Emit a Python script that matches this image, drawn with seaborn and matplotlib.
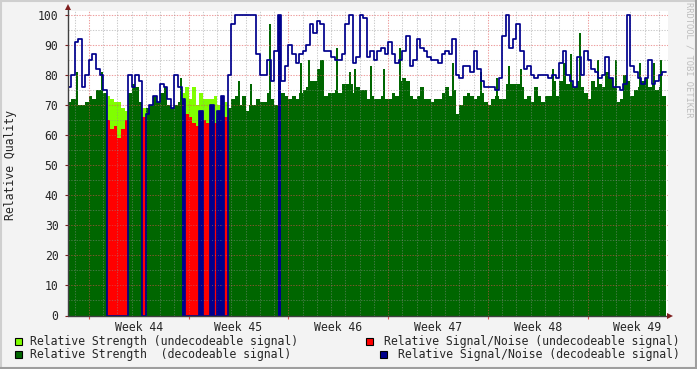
import numpy as np
import pandas as pd
import matplotlib
matplotlib.use("Agg")
import matplotlib.pyplot as plt
from matplotlib.patches import Rectangle
from matplotlib.lines import Line2D
import seaborn as sns

# ---------------- data (6-hour bins, first bin starts Saturday 12:00 before week 44) ----------------
bin_hours = 6
week_labels = ["Week 44", "Week 45", "Week 46", "Week 47", "Week 48", "Week 49"]
y_ticks = [0, 10, 20, 30, 40, 50, 60, 70, 80, 90, 100]

# relative strength per bin
strength = [
    71, 72, 72, 70, 70, 71, 73, 72, 75, 75, 74, 73, 72, 71, 71, 69, 68, 74, 77, 76, 71, 69, 69, 70, 73, 71, 74, 76,
    70, 69, 70, 71, 74, 76, 72, 76, 70, 74, 72, 72, 72, 73, 70, 73, 71, 69, 72, 73, 70, 73, 68, 70, 70, 72, 71, 71,
    74, 72, 70, 72, 74, 73, 72, 73, 72, 74, 75, 76, 78, 78, 82, 85, 73, 74, 74, 75, 74, 77, 77, 77, 74, 76, 75, 75,
    72, 73, 72, 72, 73, 72, 72, 74, 73, 78, 79, 78, 73, 72, 73, 76, 72, 72, 71, 72, 72, 74, 76, 73, 75, 67, 70, 73,
    74, 73, 72, 73, 74, 71, 70, 72, 73, 72, 72, 77, 77, 77, 77, 76, 72, 73, 71, 76, 73, 71, 73, 73, 78, 73, 78, 84,
    77, 77, 76, 78, 76, 74, 72, 78, 76, 77, 76, 81, 79, 76, 71, 72, 80, 78, 73, 75, 76, 78, 79, 76, 77, 75, 76, 73,
]

# narrow strength spikes: time (days from start) and height
spike_days = [0.67, 2.39, 7.96, 12.03, 12.88, 14.21, 16.39, 16.93, 18.91, 19.82, 20.20, 21.30, 22.23, 23.35,
              27.05, 29.04, 30.16, 30.96, 31.85, 34.07, 35.33, 35.94, 37.25, 38.51, 40.15, 41.16, 41.63]
spike_vals = [81, 81, 79, 78, 77, 97, 84, 85, 89, 81, 82, 83, 82, 89,
              84, 81, 79, 83, 82, 82, 87, 94, 85, 85, 84, 84, 85]

# relative signal/noise per bin
snr = [
    76, 80, 91, 92, 76, 80, 85, 87, 82, 80, 75, 65, 62, 63, 59, 62, 65, 80, 76, 80, 78, 66, 67, 70, 73, 71, 77, 76,
    72, 69, 80, 76, 72, 67, 66, 64, 63, 68, 65, 64, 70, 64, 68, 73, 66, 80, 97, 100, 100, 100, 100, 100, 100, 87, 80, 80,
    85, 78, 88, 100, 78, 83, 90, 87, 84, 87, 88, 90, 97, 94, 98, 97, 88, 88, 86, 85, 85, 87, 97, 100, 84, 86, 100, 99,
    86, 88, 85, 88, 89, 87, 91, 87, 84, 85, 88, 93, 83, 85, 92, 89, 88, 86, 85, 85, 84, 87, 88, 87, 92, 80, 79, 83,
    83, 81, 88, 82, 78, 76, 76, 76, 75, 79, 93, 100, 89, 92, 97, 88, 82, 83, 80, 79, 80, 80, 80, 79, 80, 79, 84, 88,
    80, 78, 76, 86, 80, 88, 85, 82, 81, 79, 80, 86, 79, 76, 76, 75, 77, 100, 83, 81, 79, 77, 79, 85, 77, 78, 80, 81,
]

# d = decodeable, u = undecodeable, b = short decodeable burst inside undecodeable period
state = (
    "ddddddddddd" "uuuuuu" "dddd" "u" "dddddd"
    "dddd" "b" "uuuu" "b" "uu" "b" "u" "bb" "u" "ddddddddddd"
    "ddd" "b" "dddddddddddddddddddddddd"
    "dddddddddddddddddddddddddddd"
    "dddddddddddddddddddddddddddd"
    "dddddddddddddddddddddddddddd"
)

# ---------------- style ----------------
sns.set_theme(style="white")
plt.rcParams["font.family"] = ["DejaVu Sans Mono", "DejaVu Sans"]
FS = 8.3

C_LIGHT = "#80FF00"
C_DARK = "#006600"
C_RED = "#FF0000"
C_BLUE = "#00008C"
BG = "#F3F3F3"

W, H = 697, 369
fig = plt.figure(figsize=(W / 100, H / 100), dpi=100, facecolor=BG)

ax_l, ax_r, ax_t, ax_b = 67.5, 668.0, 10.5, 315.5
ax = fig.add_axes([ax_l / W, 1 - ax_b / H, (ax_r - ax_l) / W, (ax_b - ax_t) / H])
ax.set_facecolor("white")

n = len(strength)
strength_a = np.array(strength, float)
snr_a = np.array(snr, float)
st = np.array(list(state))
edges = np.arange(n + 1) * bin_hours / 24.0
centers = (edges[:-1] + edges[1:]) / 2

df = pd.DataFrame({
    "t": centers,
    "dark": np.where(st == "d", strength_a, 0.0),
    "light": np.where(st != "d", strength_a, 0.0),
    "red": np.where(st == "u", snr_a, 0.0),
    "blue": np.where(st == "b", snr_a, 0.0),
})

# dark green spikes first (under the other areas)
ax.vlines(spike_days, 0, spike_vals, color=C_DARK, lw=1.1, zorder=1.9, antialiased=False)

for col, c in [("dark", C_DARK), ("light", C_LIGHT), ("red", C_RED), ("blue", C_BLUE)]:
    try:
        sns.histplot(data=df, x="t", weights=col, bins=list(edges), element="step", fill=True,
                     color=c, alpha=1, linewidth=0, ax=ax, zorder=2)
    except Exception:
        ax.fill_between(edges, np.append(df[col].values, df[col].values[-1]), step="post",
                        color=c, linewidth=0, zorder=2)

# grid (drawn above the areas like rrdtool)
days_total = n * bin_hours / 24.0
week_start = 1.5
grid_minor = dict(color="#8F8F8F", alpha=0.45, lw=0.75, ls=(0, (1.3, 1.3)), zorder=3)
grid_major = dict(color="#E05050", alpha=0.55, lw=0.75, ls=(0, (1.3, 1.3)), zorder=3)
for v in range(5, 100, 10):
    ax.axhline(v, **grid_minor)
for v in range(10, 101, 10):
    ax.axhline(v, **grid_major)
d = 0.5
while d < days_total:
    k = (d - week_start) / 7
    if abs(k - round(k)) < 1e-6:
        ax.axvline(d, **grid_major)
    else:
        ax.axvline(d, **grid_minor)
    d += 1.0

# S/N line (goes to 0 while the signal is undecodeable)
line_vals = np.where(st == "u", 0.0, snr_a)
sns.lineplot(x=edges, y=np.append(line_vals, line_vals[-1]), drawstyle="steps-post",
             color=C_BLUE, linewidth=1.25, errorbar=None, ax=ax, zorder=4)

ax.set_xlim(0, (ax_r - 67.5) / (666 - 67.5) * days_total)
ax.set_ylim(0, 101.5)
for s in ax.spines.values():
    s.set_visible(False)

# axes lines with arrows
AX_C = "#404040"
ARROW = "#7F1F1F"
ax.plot([0, 0], [0, 102.6], color=AX_C, lw=1, clip_on=False, zorder=5)
ax.plot([0], [102.6], marker="^", ms=5, color=ARROW, clip_on=False, zorder=6, mew=0)
xr = ax.get_xlim()[1]
ax.plot([0, xr + 0.1], [0, 0], color=AX_C, lw=1, clip_on=False, zorder=5)
ax.plot([xr + 0.15], [0], marker=">", ms=5, color=ARROW, clip_on=False, zorder=6, mew=0)

# ticks and labels
ax.set_yticks(y_ticks)
ax.set_yticklabels([str(v) for v in y_ticks], fontsize=FS)
ax.tick_params(axis="y", which="major", length=2.5, width=0.8, color="#7F1F1F", pad=4, left=True)
week_mid = [week_start + 3.5 + 7 * i for i in range(len(week_labels))]
ax.set_xticks(week_mid)
ax.set_xticklabels(week_labels, fontsize=FS)
ax.tick_params(axis="x", which="major", length=0, pad=4.2)
ax.set_xticks([week_start + 7 * i for i in range(6)], minor=True)
ax.tick_params(axis="x", which="minor", length=2.5, width=0.8, color="#E05050", bottom=True)
ax.set_xlabel("")
ax.set_ylabel("")

fig.text(11 / W, 1 - 165 / H, "Relative Quality", rotation=90, ha="center", va="center", fontsize=FS)
fig.text(688.5 / W, 1 - 60 / H, "RRDTOOL / TOBI OETIKER", rotation=270, ha="center", va="center",
         fontsize=6.3, color="#BDBDBD")

# legend
def box(x, y, c):
    fig.patches.append(Rectangle((x / W, 1 - (y + 7) / H), 7 / W, 7 / H, transform=fig.transFigure,
                                 facecolor=c, edgecolor="black", lw=0.8))

box(15, 337.5, C_LIGHT)
fig.text(30 / W, 1 - 341 / H, "Relative Strength (undecodeable signal)", ha="left", va="center", fontsize=FS)
box(365.5, 337.5, C_RED)
fig.text(680 / W, 1 - 341 / H, "Relative Signal/Noise (undecodeable signal)", ha="right", va="center", fontsize=FS)
box(15, 351, C_DARK)
fig.text(30 / W, 1 - 354.5 / H, "Relative Strength  (decodeable signal)", ha="left", va="center", fontsize=FS)
box(379.5, 351, C_BLUE)
fig.text(680 / W, 1 - 354.5 / H, "Relative Signal/Noise (decodeable signal)", ha="right", va="center", fontsize=FS)

# 3D frame around the image
fig.lines.append(Line2D([0, 1], [1 - 1 / H, 1 - 1 / H], transform=fig.transFigure, color="#CFCFCF", lw=1.5))
fig.lines.append(Line2D([1 / W, 1 / W], [0, 1], transform=fig.transFigure, color="#CFCFCF", lw=1.5))
fig.lines.append(Line2D([0, 1], [1 / H, 1 / H], transform=fig.transFigure, color="#9E9E9E", lw=1.5))
fig.lines.append(Line2D([1 - 1 / W, 1 - 1 / W], [0, 1], transform=fig.transFigure, color="#9E9E9E", lw=1.5))

fig.savefig("out.png", dpi=100, facecolor=BG)
